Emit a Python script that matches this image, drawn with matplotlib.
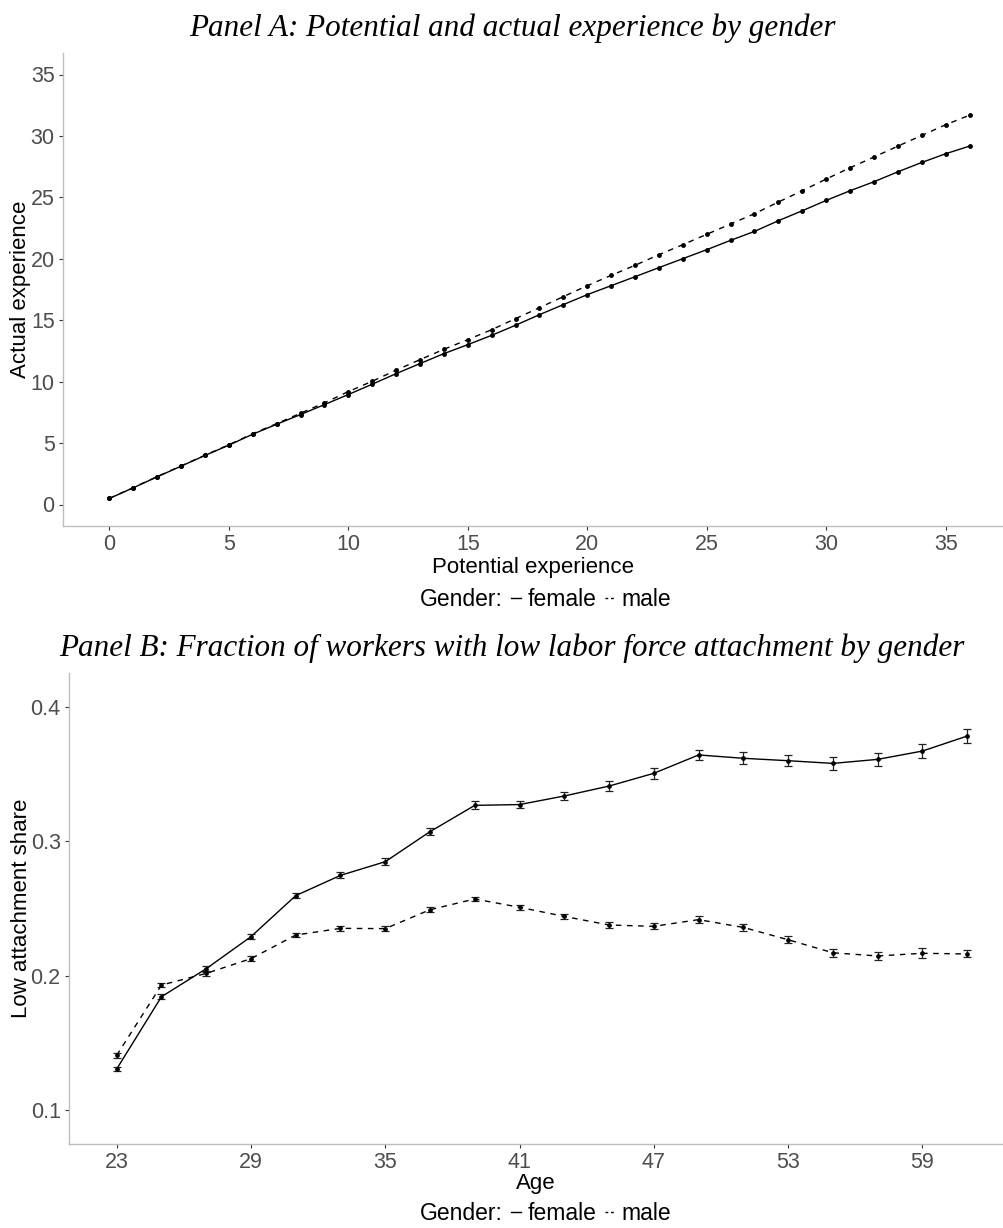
import numpy as np
import matplotlib
matplotlib.use("Agg")
import matplotlib.pyplot as plt
from matplotlib.lines import Line2D

plt.rcParams['font.family'] = ['Liberation Sans', 'DejaVu Sans']

# Panel A: potential vs actual experience
pot_exp = list(range(0, 37))
act_female = [0.49, 1.36, 2.25, 3.12, 3.99, 4.83, 5.72, 6.53, 7.32, 8.13,
              8.95, 9.79, 10.65, 11.47, 12.28, 13.01, 13.77, 14.59, 15.45, 16.27,
              17.08, 17.81, 18.54, 19.28, 20.01, 20.74, 21.50, 22.23, 23.10, 23.91,
              24.75, 25.54, 26.27, 27.08, 27.84, 28.55, 29.17]
act_male = [0.50, 1.38, 2.27, 3.14, 4.01, 4.86, 5.76, 6.58, 7.43, 8.27,
            9.19, 10.03, 10.93, 11.79, 12.63, 13.42, 14.23, 15.13, 16.02, 16.92,
            17.81, 18.65, 19.47, 20.33, 21.15, 21.99, 22.83, 23.67, 24.62, 25.54,
            26.49, 27.41, 28.28, 29.17, 30.04, 30.91, 31.69]

# Panel B: share of workers with low attachment, by age
ages = list(range(23, 62, 2))
low_female = [0.1303, 0.1842, 0.2051, 0.2290, 0.2596, 0.2747, 0.2849, 0.3073, 0.3269, 0.3275,
              0.3339, 0.3413, 0.3508, 0.3645, 0.3620, 0.3602, 0.3582, 0.3612, 0.3674, 0.3786]
low_female_se = [0.0018, 0.0019, 0.0021, 0.0019, 0.0021, 0.0023, 0.0024, 0.0025, 0.0029, 0.0029,
                 0.0033, 0.0035, 0.0039, 0.0036, 0.0044, 0.0040, 0.0046, 0.0047, 0.0053, 0.0049]
low_male = [0.1405, 0.1929, 0.2016, 0.2126, 0.2302, 0.2352, 0.2350, 0.2491, 0.2571, 0.2509,
            0.2441, 0.2377, 0.2367, 0.2417, 0.2359, 0.2267, 0.2170, 0.2146, 0.2166, 0.2161]
low_male_se = [0.0019, 0.0017, 0.0017, 0.0017, 0.0017, 0.0017, 0.0017, 0.0017, 0.0017, 0.0019,
               0.0020, 0.0021, 0.0023, 0.0026, 0.0024, 0.0026, 0.0029, 0.0030, 0.0036, 0.0026]

W, H = 1004, 1228
DASH = (0, (4, 4))
AXIS_GRAY = '#BEBEBE'
TICK_GRAY = '#4D4D4D'


def style_axes(ax):
    for side in ('top', 'right'):
        ax.spines[side].set_visible(False)
    for side in ('left', 'bottom'):
        ax.spines[side].set_color(AXIS_GRAY)
        ax.spines[side].set_linewidth(1.0)
    ax.tick_params(length=3, width=0.8, color='#333333', labelcolor=TICK_GRAY,
                   labelsize=15.5, pad=3)


def add_legend(fig, y_px):
    handles = [Line2D([], [], linestyle='none'),
               Line2D([], [], color='black', lw=1.0),
               Line2D([], [], color='black', lw=1.0, linestyle=(0, (2, 2)))]
    fig.legend(handles, ['Gender:', 'female', 'male'], loc='center',
               bbox_to_anchor=(537 / W, 1 - y_px / H), ncol=3, frameon=False,
               fontsize=16.5, handlelength=0.45, handletextpad=0.3,
               columnspacing=0.35, borderpad=0)


fig = plt.figure(figsize=(W / 100, H / 100), dpi=100)
title_font = dict(family=['Liberation Serif', 'DejaVu Serif'], style='italic', size=22.4)

# ---- Panel A
axA = fig.add_axes([63 / W, 1 - 526 / H, (1003 - 63) / W, (526 - 53) / H])
axA.plot(pot_exp, act_female, color='black', lw=1.0, marker='o', ms=2.5)
axA.plot(pot_exp, act_male, color='black', lw=1.0, linestyle=DASH, marker='o', ms=2.5)
axA.set_xlim(-1.94, 37.4)
axA.set_ylim(-1.75, 36.75)
axA.set_xticks(range(0, 36, 5))
axA.set_yticks(range(0, 36, 5))
style_axes(axA)
axA.set_xlabel('Potential experience', fontsize=16, labelpad=1)
axA.set_ylabel('Actual experience', fontsize=16, labelpad=0)
fig.text(512 / W, 1 - 28 / H, 'Panel A: Potential and actual experience by gender',
         ha='center', va='center', **title_font)
add_legend(fig, 600)

# ---- Panel B
axB = fig.add_axes([69 / W, 1 - 1144 / H, (1003 - 69) / W, (1144 - 673) / H])
axB.errorbar(ages, low_female, yerr=low_female_se, color='black', lw=1.0,
             marker='o', ms=2.4, ecolor='#222222', elinewidth=0.9,
             capsize=3, capthick=0.9)
eb = axB.errorbar(ages, low_male, yerr=low_male_se, color='black', lw=1.0,
                  marker='o', ms=2.4, ecolor='#222222', elinewidth=0.9,
                  capsize=3, capthick=0.9)
eb[0].set_linestyle(DASH)
axB.set_xlim(20.87, 62.6)
axB.set_ylim(0.0744, 0.4256)
axB.set_xticks(range(23, 62, 6))
axB.set_yticks([0.1, 0.2, 0.3, 0.4])
style_axes(axB)
axB.set_xlabel('Age', fontsize=16, labelpad=0)
axB.set_ylabel('Low attachment share', fontsize=16, labelpad=-1)
fig.text(512 / W, 1 - 648 / H,
         'Panel B: Fraction of workers with low labor force attachment by gender',
         ha='center', va='center', **title_font)
add_legend(fig, 1214)

fig.savefig('out.png', dpi=100)
